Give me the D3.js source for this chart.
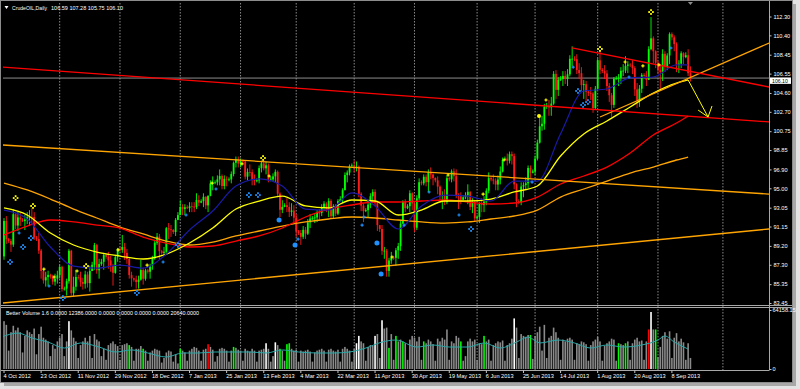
<!DOCTYPE html>
<html><head><meta charset="utf-8">
<script src="https://cdn.jsdelivr.net/npm/d3@7/dist/d3.min.js"></script>
<style>html,body{margin:0;padding:0;background:#e3e3e3;overflow:hidden}svg{display:block}text{font-family:"Liberation Sans",Arial,sans-serif}</style>
</head><body><svg id="chart" width="800" height="389"></svg>
<script>
const symbolName = "CrudeOIL,Daily";
const lastOHLC = [106.59, 107.28, 105.75, 106.10];
const volumeTitle = "Better Volume 1.6 0.0000 12386.0000 0.0000 0.0000 0.0000 0.0000 20640.0000";
const firstOpen = 91.89;
const closes = [
88.14,91.71,89.88,89.7,89.33,92.39,91.25,92.07,91.86,91.7,
91.85,92.09,92.12,92.10,90.05,89.9,88.73,86.67,85.73,86.05,
86.28,86.1,85.6,85.9,86.24,87.09,84.86,84.9,85.65,88.71,
84.44,85.09,86.07,86.0,85.57,85.38,86.32,85.45,86.67,87.3,
89.28,86.75,87.38,87.6,88.28,88.1,87.74,87.18,86.49,88.07,
88.91,88.8,89.09,88.50,87.88,86.26,85.93,85.8,85.56,85.80,
86.77,85.89,86.73,86.6,87.20,87.93,89.51,90.13,88.66,88.5,
88.61,90.98,90.87,90.80,90.6,91.82,92.3,93.12,92.92,93.09,
93.0,93.19,93.15,93.10,93.82,93.56,93.7,94.14,93.28,94.24,
95.49,95.56,95.6,95.9,96.24,95.23,95.95,95.88,95.9,96.44,
97.57,97.94,97.49,97.77,97.7,96.17,96.64,96.62,95.83,95.72,
95.8,97.03,97.51,97.01,97.31,95.86,95.9,96.2,96.66,94.46,
92.84,93.13,93.3,93.11,92.63,92.76,92.05,90.68,90.5,90.12,
90.82,90.43,91.56,91.95,92.0,92.06,92.54,92.52,93.03,93.45,
92.9,93.73,92.19,92.96,92.45,93.71,93.9,94.81,96.34,96.58,
97.23,97.3,97.07,97.19,94.45,93.26,92.70,92.8,93.36,94.20,
94.64,93.50,91.29,90.9,88.71,88.72,86.68,87.73,88.01,88.0,
88.76,89.18,91.44,93.64,93.00,93.2,94.50,93.46,91.03,93.99,
95.61,95.5,96.16,95.62,96.62,96.39,96.04,95.8,95.17,94.21,
94.30,93.60,96.02,95.9,96.71,96.22,94.28,94.25,93.84,94.1,
94.3,94.65,93.13,93.61,91.97,92.1,93.45,93.31,93.66,94.76,
96.03,95.9,95.77,95.38,95.88,96.69,97.85,98.0,97.77,98.44,
98.24,95.40,93.69,93.6,95.18,95.32,95.50,97.05,96.56,96.7,
97.99,99.60,101.24,101.5,103.22,103.3,103.14,103.53,106.52,104.91,
105.95,106.0,106.32,106.00,106.48,108.04,108.05,108.0,106.91,106.59,
105.39,105.49,104.70,104.6,104.55,103.08,105.03,107.89,106.94,106.8,
106.56,105.30,104.37,103.40,106.03,106.1,106.11,106.83,106.85,107.33,
107.46,107.4,107.10,104.96,103.85,105.03,106.42,106.3,105.92,109.01,
110.10,108.80,107.65,106.9,106.7,108.54,107.23,108.37,110.53,110.2,
109.52,107.39,107.55,108.60,108.21,108.4,106.59,106.10];
const highs = [
91.9,92.0,92.2,90.0,89.9,92.9,92.5,92.6,92.5,92.0,
92.3,92.6,92.8,93.0,92.6,90.2,90.5,88.9,86.9,86.6,
86.7,86.4,86.3,86.4,86.7,87.3,87.2,85.1,85.9,88.9,
88.8,86.1,86.8,86.3,86.6,86.0,86.7,86.6,87.2,87.6,
89.5,89.4,87.9,87.9,88.5,88.4,88.6,88.2,87.4,88.3,
89.0,89.1,90.3,89.5,88.9,88.0,86.6,86.0,86.2,86.2,
87.8,87.0,86.9,86.9,87.4,88.2,89.7,90.5,90.4,88.8,
89.1,91.1,91.5,91.3,90.9,92.0,92.6,93.8,93.4,93.4,
93.3,93.6,93.6,93.6,94.5,94.3,93.9,94.5,94.2,94.3,
95.8,96.2,95.8,96.3,96.9,96.4,96.3,96.2,96.1,96.7,
97.7,98.2,98.2,98.0,97.9,97.8,97.0,97.4,96.9,96.4,
96.0,97.3,97.8,97.9,97.7,97.5,96.2,96.5,96.9,96.8,
94.6,93.8,93.5,94.0,93.6,93.5,93.3,92.4,90.8,90.8,
91.2,91.1,91.9,92.4,92.2,92.5,92.8,92.9,93.4,93.7,
93.6,94.0,93.9,93.4,93.4,93.9,94.2,95.0,96.6,96.8,
97.4,97.5,97.8,97.7,97.3,94.6,93.5,93.0,93.7,94.5,
94.9,94.9,93.6,91.3,91.3,89.1,88.9,88.0,88.6,88.2,
89.0,89.5,91.7,93.8,93.9,93.4,94.8,94.6,93.6,94.3,
96.0,95.8,96.4,96.4,96.9,97.1,96.5,96.1,96.2,95.3,
94.7,94.9,96.3,96.2,96.9,97.0,96.9,94.5,94.6,94.3,
94.6,95.4,94.7,94.0,93.8,92.3,93.6,94.0,94.2,95.0,
96.6,96.2,96.4,96.0,96.3,97.2,98.1,98.2,98.5,98.7,
98.7,98.5,95.5,93.9,95.6,95.6,96.1,97.3,97.3,96.9,
98.3,99.9,102.2,102.3,103.5,103.6,103.9,104.2,106.8,106.9,
106.2,106.3,106.8,106.8,107.0,108.4,109.3,108.3,108.5,107.6,
107.2,105.9,105.8,104.9,105.2,104.7,105.3,108.1,108.9,107.1,
107.4,106.9,105.6,104.6,106.2,106.3,106.5,107.2,107.5,108.3,
107.8,107.6,107.9,107.3,105.6,105.4,106.6,106.6,106.8,109.3,
112.24,110.3,108.9,107.8,107.5,109.0,108.8,108.6,110.7,110.7,
110.4,109.7,107.9,108.8,108.7,108.7,109.0,107.28];
const lows = [
87.7,87.8,89.4,89.5,88.6,89.1,90.9,90.7,91.2,91.6,
90.8,91.4,91.2,91.3,89.8,89.7,88.4,85.9,85.4,85.1,
85.2,85.9,85.3,85.2,85.4,85.9,84.6,84.7,84.2,85.4,
84.2,84.1,84.7,85.8,85.1,84.8,84.9,85.0,84.6,86.8,
86.8,86.4,85.9,87.2,86.8,87.9,86.9,86.6,85.2,86.4,
87.6,88.6,88.5,87.8,87.4,85.9,85.1,85.6,84.9,84.9,
85.7,85.3,85.7,86.4,85.9,86.8,87.8,89.3,87.8,88.3,
88.2,88.5,89.9,90.1,90.4,90.2,91.8,92.6,92.3,92.3,
92.9,92.6,92.6,92.6,92.9,93.2,93.5,93.1,92.9,92.6,
94.2,94.8,95.4,95.3,95.3,94.9,94.9,95.2,95.7,95.5,
96.2,97.1,97.1,97.1,97.4,95.9,95.8,96.2,95.3,95.3,
95.6,95.5,96.6,96.8,96.4,95.6,95.7,95.7,95.6,94.1,
92.1,92.5,93.1,92.6,92.1,92.2,91.6,90.1,90.3,89.3,
89.9,89.9,90.3,91.0,91.8,91.5,91.6,91.8,92.2,92.7,
92.6,92.1,91.9,91.9,92.2,92.3,93.7,93.5,94.8,95.6,
96.3,97.1,96.6,96.7,94.1,92.7,91.6,92.6,92.1,93.0,
93.7,93.2,90.7,90.6,88.3,87.9,86.1,86.1,87.4,87.8,
87.2,87.9,88.7,91.4,92.6,92.9,92.6,92.8,90.6,90.8,
93.8,95.3,95.3,95.2,94.6,95.9,95.3,95.6,94.4,93.6,
92.9,93.3,93.4,95.7,95.6,95.7,94.0,92.9,93.4,93.9,
93.9,93.4,92.8,92.5,91.7,91.9,91.5,92.6,92.6,93.3,
94.5,95.7,95.4,94.8,94.8,95.4,96.6,97.8,97.3,97.5,
97.4,94.9,93.1,93.4,93.3,94.1,94.9,95.0,96.0,96.5,
96.3,97.8,99.5,100.8,100.9,103.0,102.3,102.3,103.4,104.0,
104.3,105.8,105.3,105.5,105.3,106.3,107.3,107.8,106.5,106.0,
104.8,104.0,103.8,104.3,103.9,102.6,102.9,104.9,106.5,106.6,
106.0,104.8,103.7,102.2,103.1,105.9,105.3,105.5,106.3,106.6,
106.6,107.2,106.5,104.3,103.1,103.2,104.6,106.1,105.3,105.9,
108.9,107.6,107.1,106.5,105.0,105.8,106.7,106.9,107.5,109.9,
108.8,106.7,106.6,107.1,107.5,108.1,106.3,105.75];
const volumesK = [
44,52,48,20,40,47,42,45,40,18,
36,42,40,38,44,16,38,46,34,32,
30,14,26,22,30,34,38,14,30,52,
42,34,30,12,26,30,34,30,36,12,
38,32,30,14,22,10,26,28,30,27,
25,10,26,27,28,26,24,9,22,22,
25,22,20,9,18,20,22,21,20,7,
12,18,20,19,8,16,6,22,20,18,
9,20,22,24,23,20,9,21,22,27,
24,21,8,14,22,23,22,20,8,20,
24,23,21,20,9,22,20,19,22,20,
8,20,21,22,28,22,8,14,29,26,
22,20,9,27,28,22,20,21,8,20,
19,20,21,19,8,18,20,21,22,20,
8,21,22,20,19,21,8,22,24,22,
20,8,22,28,36,30,28,9,24,26,
25,36,38,12,53,44,45,23,38,10,
36,30,32,30,28,10,32,36,34,30,
35,10,30,28,32,30,27,9,33,30,
34,32,43,10,30,28,36,34,30,9,
14,30,33,30,32,10,28,27,36,30,
32,9,26,28,30,29,31,9,26,28,
33,55,45,12,38,36,35,37,37,11,
36,40,46,20,48,12,34,36,45,40,
34,10,32,30,33,34,32,10,28,27,
30,29,27,9,26,30,32,35,30,9,
25,28,30,33,32,9,28,27,26,28,
30,10,28,32,34,30,31,10,30,43,
62,43,43,13,24,36,40,33,41,12,
34,39,30,33,29,10,28,12];
const volWhite = [29,114,118,153,154,161,164,221,280];
const volGreen = [55,61,77,100,120,123,124,167,170,173,182,198,208,228,266,269,282];
const volRed = [89,279];
const dateLabels = ["4 Oct 2012","23 Oct 2012","11 Nov 2012","29 Nov 2012","18 Dec 2012","7 Jan 2013","25 Jan 2013","13 Feb 2013","4 Mar 2013","22 Mar 2013","11 Apr 2013","30 Apr 2013","19 May 2013","6 Jun 2013","25 Jun 2013","14 Jul 2013","1 Aug 2013","20 Aug 2013","8 Sep 2013"];
const dateBars = [1,17,33,49,65,81,97,113,129,145,161,177,193,209,225,241,257,273,289];
const priceTicks = [112.30,110.40,108.45,106.55,104.60,102.70,100.75,98.85,96.90,95.00,93.05,91.15,89.20,87.30,85.35,83.45];
const volTicks = [64158.15, 0];
const gridBars = [25,51,77,103,127,152,178,205,230,257,283,311];
const maBars = [1,11,21,31,41,51,61,71,81,91,101,111,121,131,141,151,161,171,181,191,201,211,221,231,241,251,261,271,281,291,296];
const maBlue = [92.81,91.91,89.09,87.17,86.97,87.27,86.97,88.38,90.80,92.71,95.23,95.94,95.23,92.9,92.81,94.53,93.22,90.90,93.22,94.32,94.22,93.72,95.73,95.73,100.5,104.8,105.00,106.11,106.21,107.42,107.42];
const maYellow = [93.02,92.31,90.50,89.29,88.58,88.18,87.88,88.38,89.49,91.00,92.91,93.72,94.22,93.22,93.02,93.82,93.72,92.31,92.81,93.72,93.72,93.92,94.63,95.23,98.25,100.47,101.78,103.19,104.60,105.60,105.91];
const maRed = [90.30,91.20,91.81,91.61,91.30,91.00,90.09,89.49,89.09,89.19,89.69,90.20,91.00,92.11,92.91,93.32,93.62,93.62,93.72,93.82,93.62,93.42,93.52,94.12,95.43,96.24,97.14,98.55,100.37,101.57,102.28];
const maOrange = [95.53,94.83,93.92,92.91,92.01,91.10,90.40,89.69,89.29,89.59,90.20,90.70,91.20,91.61,91.91,92.11,92.01,91.81,91.61,91.50,91.61,91.91,92.21,92.81,94.12,94.93,95.73,96.54,97.14,97.85,98.15];
const vmaBars = [0,7,13,20,27,34,42,49,56,63,71,78,85,92,99,107,114,121,128,136,143,150,157,164,170,179,186,193,201,208,215,222,227,232,240,247,254,261,268,276,283,286,290,296];
const vmaK = [34.8,39.1,33.7,29.3,22.8,28.3,23.9,18.5,20.7,17.4,13.0,17.4,17.4,18.5,18.5,18.5,17.4,20.7,18.5,17.4,17.4,18.5,22.8,29.3,31.5,23.9,26.1,23.9,23.9,28.3,22.8,29.3,34.8,28.3,31.5,28.3,22.8,26.1,23.9,26.1,31.5,35.9,29.3,21.7];
// trend lines: [bar1, price1, bar2, price2]
const trendOrangeUpper = [0.56, 99.36, 330.9, 94.42];
const trendOrangeLower = [0.56, 83.45, 330.9, 90.90];
const trendOrangeSteep = [258.0, 102.18, 330.9, 109.63];
const trendRedLong = [0.56, 107.21, 330.9, 101.68];
const trendRedShort = [245.9, 109.13, 330.9, 105.20];
const arrowLine = [296.0, 105.91, 304.6, 102.18];
const arrowHead = [[300.3, 102.88], [304.6, 102.18], [306.3, 103.29]];
// markers: [bar, price]
const yellowDiamonds = [[6,94.02],[13.5,93.22],[36.4,87.17],[112.7,98.05],[258,109.03],[280,112.75]];
const yellowCrosses = [[18.2,86.87],[22.6,86.07],[32.5,86.67],[50.2,88.79],[62.7,87.27],[90.7,95.53],[103.6,97.45],[115.3,96.24],[168.3,88.08],[192.5,96.34],[207.6,94.42],[216.6,97.85],[234.7,103.89],[268.8,107.72],[276.5,107.32],[283.4,107.42]];
const yellowDots = [[231.7,102.28]];
const blueDiamonds = [[3.6,87.58],[9.2,89.09],[12.6,89.99],[26.4,83.95],[58.3,84.46],[76,89.29],[106.6,94.32],[110.5,94.32],[202.4,90.90],[248.5,104.80],[250.7,103.39],[252.8,103.69]];
const blueCrosses = [[7.5,90.50],[20.4,85.16],[69.6,87.58],[79.5,92.31],[92.4,94.93],[127.8,89.89],[155.4,91.30],[156.2,92.11],[173.5,91.30],[184.3,94.63],[197.2,92.31],[228.7,95.63],[246.4,107.21],[270.5,106.21],[288.6,109.13]];
const blueDots = [[119.6,91.81],[126.5,89.29],[161.8,89.49],[163.6,86.37]];

const svg = d3.select("#chart");
const L = 3, R = 769, T = 3, MB = 305, VT = 308, VB = 370;
const x = d3.scaleLinear().domain([0, 1]).range([1.7, 1.7 + 2.319]);
const y = d3.scaleLinear().domain([83.45, 112.30]).range([303, 16.5]);
const vy = d3.scaleLinear().domain([0, 64158.15]).range([369, 310]);

// frame
svg.append("rect").attr("x",0).attr("y",0).attr("width",800).attr("height",389).attr("fill","#e3e3e3");
svg.append("rect").attr("x",4).attr("y",4).attr("width",792).attr("height",382).attr("fill","#a8a8a8");
svg.append("rect").attr("x",0.5).attr("y",0.5).attr("width",792).attr("height",382).attr("fill","#000").attr("stroke","#8c8c8c");

const defs = svg.append("defs");
defs.append("clipPath").attr("id","cm").append("rect").attr("x",L).attr("y",T).attr("width",R-L).attr("height",MB-T);
defs.append("clipPath").attr("id","cv").append("rect").attr("x",L).attr("y",VT).attr("width",R-L).attr("height",VB-VT);

// grid
const grid = svg.append("g");
gridBars.forEach(b => {
  grid.append("line").attr("x1",x(b)).attr("x2",x(b)).attr("y1",T).attr("y2",VB)
    .attr("stroke","#9a9a9a").attr("stroke-width",0.9).attr("stroke-dasharray","1.5,1.5");
});

const main = svg.append("g").attr("clip-path","url(#cm)");
// bid line
main.append("line").attr("x1",L).attr("x2",R).attr("y1",y(lastOHLC[3])).attr("y2",y(lastOHLC[3])).attr("stroke","#8c8c8c").attr("stroke-width",1);

// candles
const bars = closes.map((c,i) => ({i, o: i ? closes[i-1] : firstOpen, h: highs[i], l: lows[i], c}));
const cg = main.append("g");
bars.forEach(d => {
  const up = d.c >= d.o;
  const col = up ? "#00ff00" : "#ff1a1a";
  const hi = Math.max(d.h, d.o, d.c), lo = Math.min(d.l, d.o, d.c);
  cg.append("line").attr("x1",x(d.i)).attr("x2",x(d.i)).attr("y1",y(hi)).attr("y2",y(lo)).attr("stroke",col).attr("stroke-width",0.9);
  const yt = y(Math.max(d.o,d.c)), yb = y(Math.min(d.o,d.c));
  cg.append("rect").attr("x",x(d.i)-0.9).attr("width",1.8).attr("y",yt).attr("height",Math.max(0.8,yb-yt)).attr("fill",col);
});

// moving averages
const maLine = d3.line().x(d=>x(d[0])).y(d=>y(d[1])).curve(d3.curveMonotoneX);
[[maOrange,"#ffa500",1.3],[maRed,"#ff0000",1.3],[maYellow,"#ffff00",1.3],[maBlue,"#1a1aa8",1.2]].forEach(([arr,col,w]) => {
  main.append("path").attr("d",maLine(maBars.map((b,k)=>[b,arr[k]]))).attr("fill","none").attr("stroke",col).attr("stroke-width",w);
});

// trend lines
function tline(t, col, w){
  main.append("line").attr("x1",x(t[0])).attr("y1",y(t[1])).attr("x2",x(t[2])).attr("y2",y(t[3])).attr("stroke",col).attr("stroke-width",w);
}
tline(trendOrangeUpper,"#ffa500",1.3);
tline(trendOrangeLower,"#ffa500",1.3);
tline(trendOrangeSteep,"#ffa500",1.3);
tline(trendRedLong,"#ff0000",1.3);
tline(trendRedShort,"#ff0000",1.3);
// arrow
tline(arrowLine,"#ffff00",1);
main.append("path").attr("d",d3.line().x(d=>x(d[0])).y(d=>y(d[1]))(arrowHead)).attr("fill","none").attr("stroke","#ffff00").attr("stroke-width",1);

// markers
function diamonds(arr,col){
  arr.forEach(([b,p]) => {
    const cx = x(b), cy = y(p);
    [[0,-1.9],[1.9,0],[0,1.9],[-1.9,0]].forEach(([dx,dy]) => {
      main.append("rect").attr("x",cx+dx-0.9).attr("y",cy+dy-0.9).attr("width",1.8).attr("height",1.8).attr("fill",col);
    });
  });
}
function crosses(arr,col){
  arr.forEach(([b,p]) => {
    const cx = x(b), cy = y(p);
    main.append("path").attr("d",`M${cx-1.6},${cy}H${cx+1.6}M${cx},${cy-1.6}V${cy+1.6}`).attr("stroke",col).attr("stroke-width",1.2);
  });
}
function dots(arr,col,r){
  arr.forEach(([b,p]) => main.append("circle").attr("cx",x(b)).attr("cy",y(p)).attr("r",r).attr("fill",col));
}
diamonds(yellowDiamonds,"#ffff00");
diamonds(blueDiamonds,"#1e90ff");
crosses(yellowCrosses,"#ffff00");
crosses(blueCrosses,"#1e90ff");
dots(blueDots,"#1e90ff",2.5);
dots(yellowDots,"#ffff00",2);

// volume panel
const vg = svg.append("g").attr("clip-path","url(#cv)");
const colorOf = i => volWhite.includes(i) ? "#ffffff" : volGreen.includes(i) ? "#00ff00" : volRed.includes(i) ? "#ff0000" : "#8a8a8a";
volumesK.forEach((v,i) => {
  const yy = vy(v*1000);
  vg.append("rect").attr("x",x(i)-0.8).attr("width",1.6).attr("y",yy).attr("height",vy(0)-yy).attr("fill",colorOf(i));
});
vg.append("path").attr("d",d3.line().x(d=>x(d[0])).y(d=>vy(d[1]*1000)).curve(d3.curveMonotoneX)(vmaBars.map((b,k)=>[b,vmaK[k]])))
  .attr("fill","none").attr("stroke","#2aa6a6").attr("stroke-width",1);

// panel separators and axes
svg.append("line").attr("x1",1).attr("x2",792).attr("y1",305.5).attr("y2",305.5).attr("stroke","#a8a8a8").attr("stroke-width",1);
svg.append("line").attr("x1",1).attr("x2",792).attr("y1",307.5).attr("y2",307.5).attr("stroke","#a8a8a8").attr("stroke-width",1);
svg.append("line").attr("x1",1).attr("x2",R).attr("y1",370.5).attr("y2",370.5).attr("stroke","#a8a8a8").attr("stroke-width",1);
svg.append("line").attr("x1",R+0.5).attr("x2",R+0.5).attr("y1",1).attr("y2",370.5).attr("stroke","#a8a8a8").attr("stroke-width",1);

const FS = 5.6;
// price axis
const pa = svg.append("g").attr("transform",`translate(${R+0.5},0)`)
  .call(d3.axisRight(y).tickValues(priceTicks).tickFormat(d3.format(".2f")).tickSize(2).tickPadding(2));
pa.select(".domain").remove();
pa.selectAll("line").attr("stroke","#c8c8c8");
pa.selectAll("text").attr("fill","#ffffff").style("font-size",FS+"px").style("font-family","Liberation Sans, Arial, sans-serif");
// current price box (sits just under the 106.55 label, as in the reference)
const cy0 = y(lastOHLC[3]);
svg.append("rect").attr("x",R+1).attr("y",cy0-0.6).attr("width",21).attr("height",6.4).attr("fill","#ffffff");
svg.append("text").attr("x",R+3).attr("y",cy0+4.6).attr("fill","#000").style("font-size","5.2px").text(d3.format(".2f")(lastOHLC[3]));
// volume axis
const va = svg.append("g").attr("transform",`translate(${R+0.5},0)`)
  .call(d3.axisRight(vy).tickValues(volTicks).tickFormat(v => v ? d3.format(".2f")(v) : "0").tickSize(2).tickPadding(1));
va.select(".domain").remove();
va.selectAll("line").attr("stroke","#c8c8c8");
va.selectAll("text").attr("fill","#ffffff").style("font-size",FS+"px").style("font-family","Liberation Sans, Arial, sans-serif");

// date axis
dateBars.forEach((b,k) => {
  svg.append("line").attr("x1",x(b)).attr("x2",x(b)).attr("y1",370.5).attr("y2",373).attr("stroke","#c8c8c8");
  svg.append("text").attr("x",x(b)-0.5).attr("y",378).attr("fill","#ffffff").style("font-size",FS+"px").text(dateLabels[k]);
});

// titles
svg.append("path").attr("d","M4.5,6 L8.5,6 L6.5,9 Z").attr("fill","#ffffff");
svg.append("text").attr("x",12).attr("y",9.5).attr("fill","#ffffff").style("font-size",FS+"px")
  .attr("textLength",35).attr("lengthAdjust","spacingAndGlyphs").text(symbolName);
svg.append("text").attr("x",51).attr("y",9.5).attr("fill","#ffffff").style("font-size",FS+"px")
  .attr("textLength",72).attr("lengthAdjust","spacingAndGlyphs").text(lastOHLC.map(d3.format(".2f")).join(" "));
svg.append("text").attr("x",6).attr("y",315).attr("fill","#ffffff").style("font-size",FS+"px")
  .attr("textLength",193).attr("lengthAdjust","spacingAndGlyphs").text(volumeTitle);
// chart shift marker
svg.append("path").attr("d",`M${x(297)-2.5},2 L${x(297)+2.5},2 L${x(297)},5 Z`).attr("fill","#8c8c8c");
</script></body></html>
